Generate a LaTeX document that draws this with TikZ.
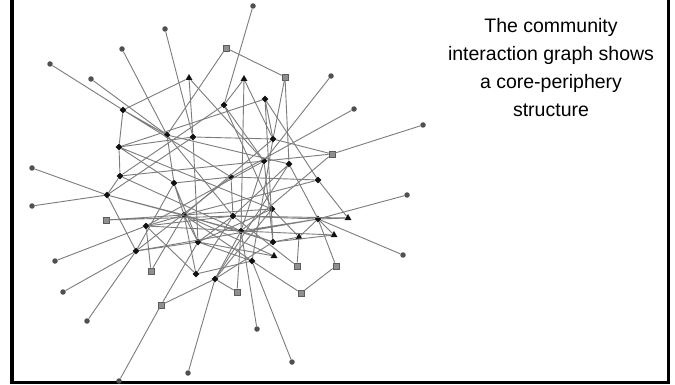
\documentclass[tikz,border=0pt]{standalone}
\usepackage{fontspec}
\setmainfont{Liberation Sans}
\usetikzlibrary{shapes.geometric}
\definecolor{linkgrey}{HTML}{7c7c7c}
\definecolor{leafgrey}{HTML}{505050}
\definecolor{memberfill}{HTML}{8f8f8f}
\definecolor{memberborder}{HTML}{5c5c5c}
\definecolor{coreblack}{HTML}{111111}
\tikzset{
    core/.style={
        diamond, fill=coreblack, inner sep=0pt, minimum size=7pt
    },
    bridge/.style={
        regular polygon, regular polygon sides=3,
        fill=coreblack, inner sep=0pt, minimum size=8pt
    },
    member/.style={
        rectangle, draw=memberborder, fill=memberfill,
        line width=0.7pt, inner sep=0pt, minimum size=6pt
    },
    leaf/.style={
        circle, fill=leafgrey, inner sep=0pt, minimum size=5.5pt
    },
    link/.style={draw=linkgrey, line width=0.9pt},
    caption/.style={
        font=\fontsize{19.5}{28}\selectfont,
        align=center, inner sep=0pt, anchor=north
    }
}

\begin{document}
\begin{tikzpicture}[x=1pt, y=-1pt]

    \useasboundingbox (0,0) rectangle (675,385);
    \fill[white] (0,0) rectangle (675,385);

    % --- Frame (top edge lies outside the page) ---
    \draw[line width=3.5pt] (12,-10) -- (12,382.5) -- (668.5,382.5) -- (668.5,-10);

    % --- Caption ---
    \node[caption] (note) at (551,18)
        {The community\\interaction graph shows\\a core-periphery\\structure};

    % --- Core (diamonds) ---
    \node[core] (d1)  at (123,110) {};
    \node[core] (d2)  at (224,105) {};
    \node[core] (d3)  at (265,99)  {};
    \node[core] (d4)  at (167,135) {};
    \node[core] (d5)  at (193,137) {};
    \node[core] (d6)  at (119,147) {};
    \node[core] (d7)  at (273,139) {};
    \node[core] (d8)  at (120,176) {};
    \node[core] (d9)  at (174,183) {};
    \node[core] (d10) at (264,161) {};
    \node[core] (d11) at (289,164) {};
    \node[core] (d12) at (231,177) {};
    \node[core] (d13) at (318,180) {};
    \node[core] (d14) at (107,195) {};
    \node[core] (d15) at (184,215) {};
    \node[core] (d16) at (233,216) {};
    \node[core] (d17) at (272,209) {};
    \node[core] (d18) at (318,219) {};
    \node[core] (d19) at (146,226) {};
    \node[core] (d20) at (241,231) {};
    \node[core] (d21) at (198,242) {};
    \node[core] (d22) at (273,242) {};
    \node[core] (d23) at (136,251) {};
    \node[core] (d24) at (252,261) {};
    \node[core] (d25) at (196,274) {};
    \node[core] (d26) at (215,279) {};

    % --- Bridges (triangles) ---
    \node[bridge] (t1) at (189,78)  {};
    \node[bridge] (t2) at (244,79)  {};
    \node[bridge] (t3) at (348,218) {};
    \node[bridge] (t4) at (299,237) {};
    \node[bridge] (t5) at (334,235) {};
    \node[bridge] (t6) at (274,256) {};

    % --- Members (squares) ---
    \node[member] (s1)  at (226,48)  {};
    \node[member] (s2)  at (285,77)  {};
    \node[member] (s3)  at (332,154) {};
    \node[member] (s4)  at (106,220) {};
    \node[member] (s5)  at (151,271) {};
    \node[member] (s6)  at (161,305) {};
    \node[member] (s7)  at (297,266) {};
    \node[member] (s8)  at (336,266) {};
    \node[member] (s9)  at (237,292) {};
    \node[member] (s10) at (301,293) {};

    % --- Periphery (circles) ---
    \node[leaf] (c1)  at (165,29)  {};
    \node[leaf] (c2)  at (122,49)  {};
    \node[leaf] (c3)  at (50,64)   {};
    \node[leaf] (c4)  at (91,79)   {};
    \node[leaf] (c5)  at (253,6)   {};
    \node[leaf] (c6)  at (331,76)  {};
    \node[leaf] (c7)  at (354,109) {};
    \node[leaf] (c8)  at (423,125) {};
    \node[leaf] (c9)  at (32,168)  {};
    \node[leaf] (c10) at (32,206)  {};
    \node[leaf] (c11) at (407,195) {};
    \node[leaf] (c12) at (403,255) {};
    \node[leaf] (c13) at (55,261)  {};
    \node[leaf] (c14) at (63,292)  {};
    \node[leaf] (c15) at (87,321)  {};
    \node[leaf] (c16) at (119,381) {};
    \node[leaf] (c17) at (188,373) {};
    \node[leaf] (c18) at (257,329) {};
    \node[leaf] (c19) at (292,362) {};

    % --- Periphery links ---
    \draw[link] (c1) -- (d5);   \draw[link] (c2) -- (d4);
    \draw[link] (c3) -- (d1);   \draw[link] (c4) -- (d4);
    \draw[link] (c5) -- (d2);   \draw[link] (c6) -- (d10);
    \draw[link] (c7) -- (d12);  \draw[link] (c8) -- (s3);
    \draw[link] (c9) -- (d14);  \draw[link] (c10) -- (d14);
    \draw[link] (c11) -- (d18); \draw[link] (c12) -- (d18);
    \draw[link] (c13) -- (d19); \draw[link] (c14) -- (d23);
    \draw[link] (c15) -- (d23); \draw[link] (c16) -- (s6);
    \draw[link] (c17) -- (d26); \draw[link] (c18) -- (d20);
    \draw[link] (c19) -- (d24);

    % --- Upper links ---
    \draw[link] (t1) -- (d1) (t1) -- (d5) (t1) -- (d10);
    \draw[link] (t2) -- (d2) (t2) -- (d20) (t2) -- (d7);
    \draw[link] (s1) -- (s2) (s1) -- (d4);
    \draw[link] (s2) -- (d7) (s2) -- (d11);
    \draw[link] (d1) -- (d6) (d1) -- (d4) (d1) -- (d12);
    \draw[link] (d2) -- (d8) (d2) -- (d10) (d2) -- (d17);
    \draw[link] (d3) -- (d6) (d3) -- (d13) (d3) -- (d7) (d3) -- (d22);
    \draw[link] (d4) -- (d9) (d4) -- (d16) (d4) -- (d11);
    \draw[link] (d5) -- (d7) (d5) -- (d6) (d5) -- (d14) (d5) -- (d21);
    \draw[link] (d6) -- (d8) (d6) -- (d9) (d6) -- (d17);
    \draw[link] (d7) -- (d15) (d7) -- (s3) (d7) -- (d24);
    \draw[link] (d8) -- (d14) (d8) -- (d10) (d8) -- (d20);
    \draw[link] (d9) -- (d15) (d9) -- (d21) (d9) -- (d12);
    \draw[link] (d10) -- (d19) (d10) -- (d20) (d10) -- (d22);
    \draw[link] (d11) -- (d16) (d11) -- (d18) (d11) -- (d26);
    \draw[link] (d12) -- (d16) (d12) -- (d13) (d12) -- (d23);
    \draw[link] (d13) -- (t3) (d13) -- (d15);
    \draw[link] (s3) -- (d20) (s3) -- (d10);

    % --- Lower links ---
    \draw[link] (d14) -- (d15) (d14) -- (d23) (d14) -- (d20);
    \draw[link] (s4) -- (d15) (s4) -- (d16);
    \draw[link] (d15) -- (d21) (d15) -- (d25) (d15) -- (d17) (d15) -- (d22)
                (d15) -- (d19) (d15) -- (d24);
    \draw[link] (d16) -- (d19) (d16) -- (d18) (d16) -- (d21) (d16) -- (s7);
    \draw[link] (d17) -- (d21) (d17) -- (d26) (d17) -- (t4);
    \draw[link] (d18) -- (t3) (d18) -- (t5) (d18) -- (s8) (d18) -- (t4)
                (d18) -- (d20) (d18) -- (d23);
    \draw[link] (d19) -- (d20) (d19) -- (d25);
    \draw[link] (d20) -- (d22) (d20) -- (d26) (d20) -- (s9) (d20) -- (t5);
    \draw[link] (d21) -- (d24) (d21) -- (t6) (d21) -- (d23);
    \draw[link] (d22) -- (t4) (d22) -- (d26);
    \draw[link] (d23) -- (d9);
    \draw[link] (d24) -- (s10) (d24) -- (d25);
    \draw[link] (s5) -- (d15) (s5) -- (d19);
    \draw[link] (s6) -- (d26) (s6) -- (d21);
    \draw[link] (s8) -- (s10);
    \draw[link] (d26) -- (s9);
    \draw[link] (d25) -- (d16);
    \draw[link] (t6) -- (d15);
    \draw[link] (t4) -- (s7);
    \draw[link] (t3) -- (d16);
    \draw[link] (t5) -- (d22);

\end{tikzpicture}
\end{document}
